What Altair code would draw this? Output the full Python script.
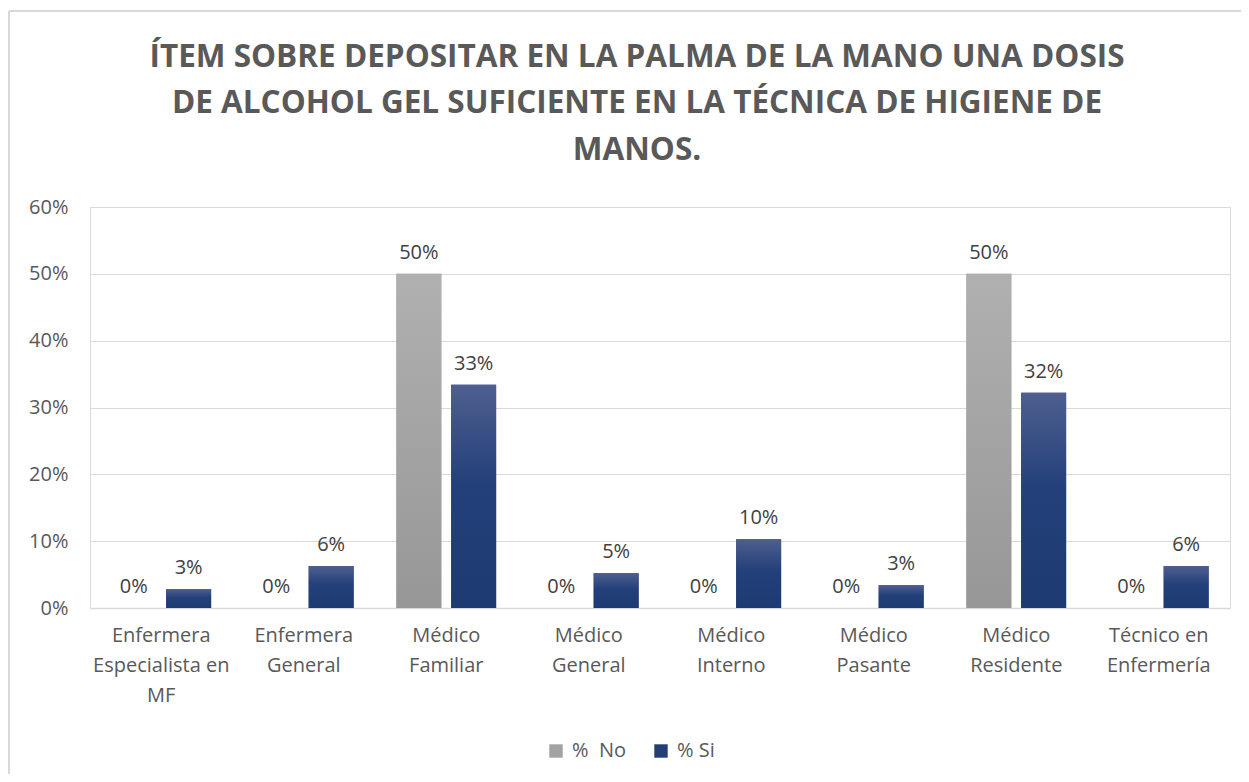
import altair as alt
import pandas as pd

categories = [
    "Enfermera|Especialista en|MF",
    "Enfermera|General",
    "Médico|Familiar",
    "Médico|General",
    "Médico|Interno",
    "Médico|Pasante",
    "Médico|Residente",
    "Técnico en|Enfermería",
]
series = ["%\u00a0 No", "% Si"]
no_values = [0.0, 0.0, 0.50, 0.0, 0.0, 0.0, 0.50, 0.0]
si_values = [0.028, 0.063, 0.334, 0.052, 0.103, 0.034, 0.322, 0.063]
y_ticks = [0, 0.1, 0.2, 0.3, 0.4, 0.5, 0.6]
title_lines = [
    "ÍTEM SOBRE DEPOSITAR EN LA PALMA DE LA MANO UNA DOSIS",
    "DE ALCOHOL GEL SUFICIENTE EN LA TÉCNICA DE HIGIENE DE",
    "MANOS.",
]

rows = []
for c, n, s in zip(categories, no_values, si_values):
    rows.append({"cat": c, "serie": series[0], "val": n})
    rows.append({"cat": c, "serie": series[1], "val": s})
df = pd.DataFrame(rows)
one = pd.DataFrame({"k": [0]})

FONT = "Open Sans"
TXT = "#595959"
GRID = "#d9d9d9"
FS = 20

x_enc = alt.X(
    "cat:N",
    sort=categories,
    scale=alt.Scale(paddingInner=0.3, paddingOuter=0.15),
    axis=alt.Axis(
        title=None,
        labelAngle=0,
        labelExpr="split(datum.label, '|')",
        labelLineHeight=30,
        labelFontSize=FS,
        labelColor=TXT,
        labelFont=FONT,
        labelPadding=17,
        labelBaseline="top",
        ticks=False,
        domainColor=GRID,
        domainWidth=1.5,
        grid=False,
    ),
)
xo_enc = alt.XOffset("serie:N", sort=series, scale=alt.Scale(domain=series, paddingInner=0.18, paddingOuter=0))
y_enc = alt.Y(
    "val:Q",
    scale=alt.Scale(domain=[0, 0.6], nice=False),
    axis=alt.Axis(
        title=None,
        values=y_ticks,
        format=".0%",
        labelFontSize=FS,
        labelColor=TXT,
        labelFont=FONT,
        labelPadding=22,
        ticks=False,
        domain=False,
        gridColor=GRID,
        gridWidth=1.2,
    ),
)

base = alt.Chart(df)

bars = base.mark_bar().encode(
    x=x_enc,
    xOffset=xo_enc,
    y=y_enc,
    color=alt.Color(
        "serie:N",
        sort=series,
        scale=alt.Scale(domain=series, range=["#a3a3a3", "#243f78"]),
        legend=alt.Legend(
            title=None,
            orient="none",
            direction="horizontal",
            legendX=456,
            legendY=534,
            symbolType="square",
            symbolSize=180,
            symbolStrokeWidth=0,
            labelFontSize=FS,
            labelColor=TXT,
            labelFont=FONT,
            labelOffset=6,
            columnPadding=24,
            padding=0,
        ),
    ),
)

gray_grad = alt.LinearGradient(
    gradient="linear", x1=0, y1=0, x2=0, y2=1,
    stops=[alt.GradientStop(color="#b0b0b0", offset=0), alt.GradientStop(color="#979797", offset=1)],
)
blue_grad = alt.LinearGradient(
    gradient="linear", x1=0, y1=0, x2=0, y2=1,
    stops=[
        alt.GradientStop(color="#4e5f8f", offset=0),
        alt.GradientStop(color="#23407a", offset=0.45),
        alt.GradientStop(color="#1e3a72", offset=1),
    ],
)

gray_bars = base.transform_filter(alt.datum.serie == series[0]).mark_bar(color=gray_grad).encode(
    x=alt.X("cat:N", sort=categories), xOffset=xo_enc, y="val:Q"
)
blue_bars = base.transform_filter(alt.datum.serie == series[1]).mark_bar(color=blue_grad).encode(
    x=alt.X("cat:N", sort=categories), xOffset=xo_enc, y="val:Q"
)

labels = base.mark_text(
    baseline="alphabetic", dy=-15, fontSize=FS, color="#404040", font=FONT
).encode(
    x=alt.X("cat:N", sort=categories),
    xOffset=xo_enc,
    y="val:Q",
    text=alt.Text("val:Q", format=".0%"),
)

single = alt.Chart(one)
border_left = single.mark_rule(color=GRID, strokeWidth=2).encode(
    x=alt.value(-81), y=alt.value(-196), y2=alt.value(600)
)
border_top = single.mark_rule(color=GRID, strokeWidth=2).encode(
    x=alt.value(-81), x2=alt.value(1200), y=alt.value(-196)
)

title_y = [-140, -94, -47]
title_marks = [
    single.mark_text(
        font=FONT, fontSize=31.5, fontWeight="bold", color=TXT, baseline="alphabetic", align="center"
    ).encode(x=alt.value(547), y=alt.value(ty), text=alt.value(line))
    for line, ty in zip(title_lines, title_y)
]

chart = (
    alt.layer(bars, gray_bars, blue_bars, labels, border_left, border_top, *title_marks)
    .properties(
        width=1140,
        height=401,
        autosize=alt.AutoSizeParams(type="none"),
        padding={"left": 82, "top": 199, "right": 11, "bottom": 166},
    )
    .configure_view(strokeWidth=0)
    .configure(background="white")
)

chart.save("out.html", embed_options={"renderer": "svg", "actions": False})
